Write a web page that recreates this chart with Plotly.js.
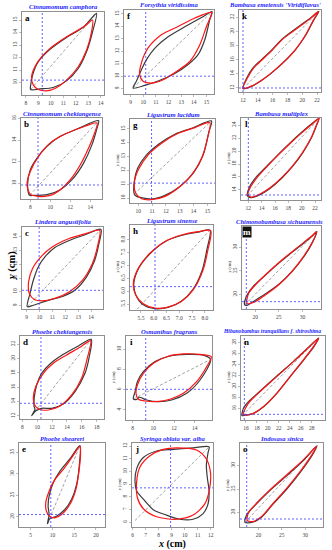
<!DOCTYPE html>
<html><head><meta charset="utf-8">
<script src="https://cdn.plot.ly/plotly-3.0.1.min.js"></script>
<style>html,body{margin:0;padding:0;background:#fff}#chart{width:332px;height:550px}</style>
</head><body><div id="chart"></div>
<script>
// ---------- data: leaf outlines (black = observed, red = fitted), base-apex lines, blue reference lines ----------
const a_black = [[13.67,15.53],[12.6,14.41],[11.26,13.61],[9.93,12.65],[8.99,11.66],[8.53,10.59],[8.4,9.92],[8.37,9.44],[9.12,9.49],[10.19,9.6],[11.26,10.13],[12.2,11.12],[12.92,12.6],[13.35,14.06],[13.67,15.53]];
const a_red   = [[13.35,15.0],[12.73,14.52],[11.26,13.66],[9.93,12.73],[8.86,11.52],[8.45,10.45],[8.59,9.79],[8.99,9.44],[9.66,9.33],[10.33,9.52],[11.26,10.19],[12.2,11.26],[12.87,12.6],[13.27,14.06],[13.35,15.0]];
const a_diag  = [[8.37,9.44],[13.67,15.53]];
const a_ref   = [9.31,10.19];

const b_black = [[14.83,15.81],[12.67,15.04],[11.0,14.36],[9.67,13.44],[8.67,12.35],[8.0,11.27],[7.73,9.88],[7.93,8.89],[8.33,8.89],[9.67,8.95],[11.0,9.41],[12.17,10.34],[13.33,11.88],[14.17,13.59],[14.67,15.13],[14.83,15.81]];
const b_red   = [[14.67,15.6],[13.0,15.13],[11.33,14.5],[10.0,13.75],[8.83,12.5],[8.0,11.1],[7.67,9.88],[8.0,9.0],[8.83,8.79],[10.0,8.88],[11.0,9.41],[12.0,10.34],[13.0,11.73],[13.83,13.28],[14.43,14.67],[14.67,15.6]];
const b_diag  = [[7.93,8.89],[14.83,15.81]];
const b_ref   = [8.77,9.85];

const c_black = [[14.77,14.55],[13.64,14.19],[12.35,13.76],[11.19,13.23],[10.42,12.55],[9.9,11.82],[9.52,10.85],[9.26,9.88],[9.05,8.93],[9.52,9.03],[10.55,9.35],[11.84,9.69],[12.74,10.12],[13.64,11.08],[14.28,12.29],[14.61,13.5],[14.77,14.55]];
const c_red   = [[14.67,14.48],[13.59,14.24],[12.3,13.88],[11.01,13.28],[10.11,12.55],[9.46,11.71],[9.15,10.72],[9.21,9.88],[9.59,9.45],[10.24,9.35],[11.14,9.52],[12.3,10.0],[13.33,10.84],[14.1,12.05],[14.49,13.26],[14.67,14.48]];
const c_diag  = [[9.05,8.93],[14.77,14.55]];
const c_ref   = [9.97,10.12];

const d_black = [[17.28,22.7],[15.53,21.77],[13.52,20.6],[11.72,19.26],[10.6,17.95],[9.93,16.33],[9.61,14.6],[9.57,13.4],[9.7,12.93],[9.26,12.05],[9.84,12.74],[10.6,13.07],[11.95,13.07],[13.52,13.67],[15.09,15.4],[16.43,17.95],[17.01,20.28],[17.28,22.7]];
const d_red   = [[17.19,22.51],[15.76,21.58],[13.96,20.51],[12.17,19.35],[10.83,17.95],[9.84,16.19],[9.48,14.6],[9.66,13.53],[10.29,12.93],[11.5,12.84],[13.07,13.4],[14.64,14.93],[15.98,17.26],[16.74,20.05],[17.19,22.51]];
const d_diag  = [[9.26,12.05],[17.28,22.7]];
const d_ref   = [10.51,13.77];

const e_black = [[16.31,36.55],[14.0,33.45],[11.69,30.58],[10.15,27.87],[9.23,24.77],[9.0,22.44],[9.23,20.5],[8.85,18.37],[9.38,19.5],[10.92,20.12],[12.85,21.67],[14.38,24.0],[15.54,27.49],[16.15,31.74],[16.31,36.55]];
const e_red   = [[16.31,36.4],[14.38,33.68],[12.46,30.97],[10.54,28.64],[9.23,25.93],[8.46,23.22],[8.62,21.28],[9.38,20.12],[10.54,19.73],[12.08,20.5],[14.0,22.83],[15.38,26.32],[16.15,30.97],[16.46,34.84],[16.31,36.4]];
const e_diag  = [[8.85,18.37],[16.31,36.55]];
const e_ref   = [9.62,20.5];

const f_black = [[15.45,15.19],[14.61,14.71],[13.29,13.97],[11.96,13.17],[10.9,12.24],[10.24,11.31],[9.85,10.52],[9.45,9.59],[9.19,9.05],[10.11,9.26],[11.17,9.61],[12.49,10.22],[13.55,10.94],[14.34,11.73],[14.87,12.93],[15.26,14.52],[15.45,15.19]];
const f_red   = [[15.4,15.13],[14.06,14.66],[12.75,14.0],[11.43,13.33],[10.38,12.27],[9.85,11.07],[9.71,10.12],[9.98,9.59],[10.64,9.45],[11.57,9.72],[12.62,10.38],[13.68,11.18],[14.47,12.51],[15.0,13.99],[15.4,15.13]];
const f_diag  = [[9.19,9.05],[15.45,15.19]];
const f_ref   = [10.19,10.0];

const g_black = [[15.3,15.58],[13.86,15.05],[12.65,14.62],[11.57,13.97],[10.6,13.13],[9.95,12.16],[9.71,11.2],[9.71,10.29],[9.88,10.12],[10.12,10.05],[10.96,9.93],[11.93,10.19],[13.01,10.84],[13.98,11.8],[14.7,13.13],[15.11,14.81],[15.3,15.58]];
const g_red   = [[15.18,15.46],[14.1,15.1],[12.89,14.69],[11.69,13.97],[10.72,13.13],[10.0,12.04],[9.71,11.08],[9.81,10.36],[10.24,9.95],[10.96,9.88],[11.93,10.12],[12.89,10.72],[13.86,11.68],[14.58,12.88],[15.01,14.33],[15.18,15.46]];
const g_diag  = [[9.71,10.29],[15.3,15.58]];
const g_ref   = [10.96,11.08];

const h_black = [[8.2,8.38],[7.73,8.3],[7.08,8.17],[6.44,7.93],[5.85,7.46],[5.41,6.9],[5.22,6.31],[5.3,5.85],[5.56,5.49],[6.05,5.32],[6.56,5.37],[7.08,5.61],[7.53,6.06],[7.9,6.83],[8.08,7.62],[8.2,8.38]];
const h_red   = [[8.23,8.36],[7.73,8.32],[7.08,8.19],[6.44,7.94],[5.85,7.48],[5.4,6.9],[5.2,6.31],[5.29,5.86],[5.59,5.51],[6.05,5.34],[6.56,5.38],[7.08,5.6],[7.54,6.05],[7.93,6.83],[8.12,7.61],[8.23,8.36]];
const h_diag  = [[5.35,5.3],[8.2,8.38]];
const h_ref   = [6.05,6.18];

const i_black = [[15.55,9.0],[14.84,9.43],[13.23,9.5],[11.61,9.34],[10.16,8.78],[9.03,7.79],[8.45,6.8],[8.23,5.81],[8.06,5.08],[8.39,5.05],[8.65,5.25],[9.35,4.98],[10.48,4.82],[11.77,4.98],[13.23,5.64],[14.52,6.96],[15.55,9.0]];
const i_red   = [[15.61,9.27],[14.52,9.5],[12.9,9.54],[11.29,9.27],[10.0,8.61],[9.03,7.62],[8.45,6.47],[8.32,5.64],[8.55,5.05],[9.19,4.88],[10.32,4.82],[11.61,5.05],[12.9,5.64],[14.19,6.8],[15.16,8.28],[15.61,9.27]];
const i_diag  = [[8.06,5.08],[15.55,9.0]];
const i_ref   = [9.26,6.04];

const j_black = [[11.87,11.95],[10.64,11.87],[9.11,11.75],[7.84,11.62],[6.82,11.11],[6.31,10.23],[6.18,9.22],[6.31,8.46],[6.82,7.82],[7.58,6.99],[8.6,6.56],[9.62,6.23],[10.64,6.23],[11.41,6.68],[11.79,7.44],[11.87,8.46],[11.74,9.47],[11.66,10.48],[11.79,11.49],[11.87,11.95]];
const j_red   = [[9.37,11.87],[10.9,11.7],[11.66,10.99],[11.97,9.97],[11.92,8.71],[11.54,7.44],[10.64,6.56],[9.37,6.23],[7.84,6.43],[6.82,7.06],[6.36,7.95],[6.31,9.22],[6.56,10.35],[7.33,11.24],[8.35,11.75],[9.37,11.87]];
const j_diag  = [[6.18,6.13],[11.87,11.95]];
const j_ref   = [8.91,8.71];

const k_black = [[12.0,11.9],[12.5,13.4],[13.4,14.9],[14.5,16.0],[15.9,17.4],[17.2,18.85],[18.6,20.0],[19.9,21.0],[21.0,21.8],[22.25,22.85],[21.5,21.5],[20.5,19.5],[19.0,17.3],[16.8,14.95],[14.5,13.05],[13.2,12.25],[12.0,11.9]];
const k_red   = [[12.0,11.95],[12.6,13.4],[13.5,14.9],[14.52,15.93],[15.9,17.3],[17.23,18.78],[18.6,19.9],[19.93,20.91],[21.0,21.75],[22.18,22.81],[21.5,21.6],[20.5,19.6],[19.03,17.36],[16.77,14.99],[14.52,13.09],[13.2,12.3],[12.0,11.95]];
const k_diag  = [[12.0,11.9],[22.25,22.85]];
const k_ref   = [12.0,12.0];

const l_black = [[11.85,13.12],[12.2,14.5],[13.2,16.0],[14.8,17.7],[16.5,19.5],[18.3,21.3],[20.0,22.9],[21.5,24.2],[22.6,25.04],[22.25,24.0],[21.45,22.0],[20.2,19.8],[18.7,17.7],[17.0,15.8],[15.2,14.2],[13.6,13.2],[12.4,12.8],[11.85,13.12]];
const l_red   = [[11.95,13.3],[12.3,14.4],[13.3,15.9],[14.8,17.6],[16.5,19.4],[18.3,21.2],[20.0,22.8],[21.5,24.1],[22.6,25.04],[22.2,24.0],[21.4,22.0],[20.2,19.9],[18.7,17.8],[17.0,15.9],[15.2,14.3],[13.6,13.3],[12.4,12.9],[11.95,13.3]];
const l_diag  = [[11.85,13.12],[22.6,25.04]];
const l_ref   = [12.0,13.22];

const m_black = [[17.75,17.82],[18.03,19.44],[19.65,21.83],[22.11,24.08],[25.63,27.18],[29.15,30.0],[31.97,32.25],[33.03,33.31],[32.11,30.99],[30.42,28.17],[27.89,25.0],[25.07,22.25],[22.11,20.14],[19.86,18.73],[18.24,17.75],[17.75,17.82]];
const m_red   = [[18.24,18.17],[18.59,20.28],[20.0,22.04],[22.11,24.15],[25.63,27.32],[29.15,30.14],[31.97,32.39],[33.03,33.31],[31.97,30.85],[30.21,28.03],[27.75,24.86],[24.93,22.04],[22.11,19.93],[20.0,18.52],[18.24,18.17]];
const m_diag  = [[17.75,17.82],[33.03,33.31]];
const m_ref   = [18.1,18.52];

const n_black = [[15.27,14.73],[15.6,16.2],[16.5,17.3],[18.6,19.2],[21.6,21.9],[24.7,24.6],[27.1,26.85],[29.3,28.85],[28.35,27.2],[26.5,24.8],[24.05,21.78],[21.6,18.75],[19.15,16.3],[17.3,15.1],[15.8,14.8],[15.27,14.73]];
const n_red   = [[15.51,15.03],[16.43,16.97],[18.56,19.09],[21.61,21.82],[24.66,24.55],[27.1,26.79],[29.23,28.79],[28.32,27.27],[26.49,24.85],[24.05,21.82],[21.61,18.79],[19.17,16.36],[17.34,15.15],[15.82,14.85],[15.51,15.03]];
const n_diag  = [[15.27,14.73],[29.23,28.79]];
const n_ref   = [15.7,14.97];

const o_black = [[17.14,17.86],[17.5,19.5],[19.64,21.86],[22.5,24.71],[26.07,27.86],[29.64,31.14],[32.5,34.29],[31.43,32.14],[28.93,28.57],[26.07,25.0],[23.21,21.86],[20.71,19.0],[18.93,17.93],[17.14,17.86]];
const o_red   = [[17.64,18.21],[17.86,19.86],[19.64,22.0],[22.5,24.86],[26.07,28.07],[29.64,31.29],[32.36,34.14],[31.43,32.36],[28.93,28.79],[26.07,25.21],[23.21,22.0],[20.71,19.14],[18.93,18.07],[17.64,18.21]];
const o_diag  = [[17.14,17.86],[32.5,34.29]];
const o_ref   = [17.5,18.57];

// species names
const names = {a:'Cinnamomum camphora', b:'Cinnamomum chekiangense', c:'Lindera angustifolia', d:'Phoebe chekiangensis', e:'Phoebe sheareri',
  f:'Forsythia viridissima', g:'Ligustrum lucidum', h:'Ligustrum sinense', i:'Osmanthus fragrans', j:'Syringa oblata var. alba',
  k:"Bambusa emeiensis 'Viridiflavus'", l:'Bambusa multiplex', m:'Chimonobambusa sichuanensis', n:'Hibanobambus tranquillans f. shiroshima', o:'Indosasa sinica'};

// ---------- panel boxes [left,right,top,bottom] in pixels, axis ranges and tick values ----------
const panels = [
 {id:'a', box:[22,104,12,95],  xr:[7.68,14.27], yr:[9.0,15.64],  xt:[8,9,10,11,12,13,14], yt:[10,11,12,13,14,15], black:a_black, red:a_red, diag:a_diag, ref:a_ref, ylab:false},
 {id:'f', box:[124,214,10,94], xr:[8.47,15.6],  yr:[8.57,15.32], xt:[9,10,11,12,13,14,15], yt:[9,10,11,12,13,14,15], black:f_black, red:f_red, diag:f_diag, ref:f_ref, ylab:false},
 {id:'k', box:[239,321,10,92], xr:[11.46,22.54],yr:[11.43,23.04],xt:[12,14,16,18,20,22], yt:[12,14,16,18,20,22], black:k_black, red:k_red, diag:k_diag, ref:k_ref, ylab:false, tx:275},
 {id:'b', box:[21,102,118,199],xr:[7.07,15.17], yr:[8.55,16.06], xt:[8,10,12,14], yt:[10,12,14,16], black:b_black, red:b_red, diag:b_diag, ref:b_ref, ylab:false},
 {id:'g', box:[130,215,119,203],xr:[9.4,15.55], yr:[9.64,15.72], xt:[10,11,12,13,14,15], yt:[10,11,12,13,14,15], black:g_black, red:g_red, diag:g_diag, ref:g_ref, ylab:true},
 {id:'l', box:[241,321,118,200],xr:[10.9,22.9], yr:[12.45,25.1], xt:[12,14,16,18,20,22], yt:[14,16,18,20,22,24], black:l_black, red:l_red, diag:l_diag, ref:l_ref, ylab:true},
 {id:'c', box:[22,103,227,309],xr:[8.64,14.93], yr:[8.76,14.72], xt:[9,10,11,12,13,14], yt:[9,10,11,12,13,14], black:c_black, red:c_red, diag:c_diag, ref:c_ref, ylab:false},
 {id:'h', box:[130,213,225,310],xr:[5.07,8.32], yr:[5.27,8.58], xt:[5.5,6,6.5,7,7.5,8], yt:[5.5,6,6.5,7,7.5,8], dec:1, black:h_black, red:h_red, diag:h_diag, ref:h_ref, ylab:true},
 {id:'m', box:[242,321,226,309],xr:[17.18,33.94],yr:[16.97,34.5], xt:[20,25,30], yt:[20,25,30], black:m_black, red:m_red, diag:m_diag, ref:m_ref, ylab:true, boxed:true, tx:279},
 {id:'d', box:[20,104,336,419],xr:[7.69,18.99], yr:[11.58,23.16], xt:[8,10,12,14,16,18], yt:[12,14,16,18,20,22], black:d_black, red:d_red, diag:d_diag, ref:d_ref, ylab:false},
 {id:'i', box:[126,212,336,420],xr:[7.35,15.68], yr:[3.0,11.32], xt:[8,10,12,14], yt:[4,6,8,10], black:i_black, red:i_red, diag:i_diag, ref:i_ref, ylab:true},
 {id:'n', box:[241,325,336,420],xr:[15.09,30.44],yr:[13.94,29.21],xt:[16,18,20,22,24,26,28], yt:[16,18,20,22,24,26,28], black:n_black, red:n_red, diag:n_diag, ref:n_ref, ylab:true, tx:272, ts:5.6},
 {id:'e', box:[19,105,443,527],xr:[2.31,22.08], yr:[17.6,37.17], xt:[5,10,15,20], yt:[20,25,30,35], black:e_black, red:e_red, diag:e_diag, ref:e_ref, ylab:false},
 {id:'j', box:[132,213,443,527],xr:[5.95,12.17], yr:[5.62,12.25], xt:[6,7,8,9,10,11,12], yt:[6,7,8,9,10,11,12], black:j_black, red:j_red, diag:j_diag, ref:j_ref, ylab:true},
 {id:'o', box:[240,323,443,527],xr:[16.07,33.79],yr:[16.86,34.86],xt:[20,25,30], yt:[20,25,30], black:o_black, red:o_red, diag:o_diag, ref:o_ref, ylab:true}
];

const W = 332, H = 550;
const SERIF = 'Liberation Serif, Times New Roman, serif';
const traces = [], shapes = [], annotations = [];
const layout = {width:W, height:H, margin:{l:0,r:0,t:0,b:0}, showlegend:false,
  paper_bgcolor:'#ffffff', plot_bgcolor:'#ffffff', shapes:shapes, annotations:annotations};
const axBase = {showgrid:false, zeroline:false, showline:true, mirror:true, linecolor:'#8f8f8f', linewidth:1,
  ticks:'outside', ticklen:2, tickwidth:0.6, tickcolor:'#8f8f8f', fixedrange:true,
  tickfont:{family:SERIF, size:5.5, color:'#444'}};
const col = pts => ({x: pts.map(p => p[0]), y: pts.map(p => p[1])});
const px = v => v / W, py = v => 1 - v / H;

panels.forEach((p, idx) => {
  const n = idx + 1, sfx = n > 1 ? String(n) : '';
  const xa = 'x' + sfx, ya = 'y' + sfx;
  const [l, r, t, b] = p.box;
  const fmt = v => p.dec ? v.toFixed(p.dec) : String(v);
  layout['xaxis' + sfx] = Object.assign({}, axBase, {domain:[px(l), px(r)], anchor:ya, range:p.xr,
    tickmode:'array', tickvals:p.xt, ticktext:p.xt.map(fmt)});
  layout['yaxis' + sfx] = Object.assign({}, axBase, {domain:[py(b), py(t)], anchor:xa, range:p.yr,
    tickmode:'array', tickvals:p.yt, ticktext:p.yt.map(fmt), tickangle:-90});

  traces.push(Object.assign({type:'scatter', mode:'lines', xaxis:xa, yaxis:ya, hoverinfo:'skip',
    line:{color:'#7a7a7a', width:0.7, dash:'3px,2px'}}, col(p.diag)));
  traces.push(Object.assign({type:'scatter', mode:'lines', xaxis:xa, yaxis:ya, hoverinfo:'skip',
    line:{color:'#3a3a3a', width:1.2, shape:'spline', smoothing:0.8}}, col(p.black)));
  traces.push(Object.assign({type:'scatter', mode:'lines', xaxis:xa, yaxis:ya, hoverinfo:'skip',
    line:{color:'#ff1414', width:1.2, shape:'spline', smoothing:0.8}}, col(p.red)));

  const blue = {color:'#3a3aff', width:0.8, dash:'2px,2px'};
  shapes.push({type:'line', xref:xa, yref:ya + ' domain', x0:p.ref[0], x1:p.ref[0], y0:0, y1:1, line:blue});
  shapes.push({type:'line', xref:xa + ' domain', yref:ya, x0:0, x1:1, y0:p.ref[1], y1:p.ref[1], line:blue});

  // species title
  annotations.push({xref:'paper', yref:'paper', x:px(p.tx || (l + r) / 2), y:py(t - 5), xanchor:'center', yanchor:'middle',
    showarrow:false, text:'<b><i>' + names[p.id] + '</i></b>', font:{family:SERIF, size:p.ts || 6.6, color:'#2424ff'}});
  // panel letter
  annotations.push({xref:'paper', yref:'paper', x:px(l + 5), y:py(t + 6), xanchor:'center', yanchor:'middle',
    showarrow:false, text:'<b>' + p.id + '</b>',
    font:{family:SERIF, size:9, color:p.boxed ? '#ffffff' : '#000000'},
    bgcolor:p.boxed ? '#111111' : 'rgba(0,0,0,0)', borderpad:0});
  // small y-axis title
  if (p.ylab) {
    annotations.push({xref:'paper', yref:'paper', x:px(l - 13), y:py((t + b) / 2), xanchor:'center', yanchor:'middle',
      showarrow:false, textangle:-90, text:'<i>y</i> (cm)', font:{family:SERIF, size:4.5, color:'#333'}});
  }
});

annotations.push({xref:'paper', yref:'paper', x:px(12), y:py(266), xanchor:'center', yanchor:'middle', showarrow:false,
  textangle:-90, text:'<b><i>y</i> (cm)</b>', font:{family:SERIF, size:10.5, color:'#000'}});
annotations.push({xref:'paper', yref:'paper', x:px(172), y:py(543.5), xanchor:'center', yanchor:'middle', showarrow:false,
  text:'<b><i>x</i> (cm)</b>', font:{family:SERIF, size:10, color:'#000'}});

Plotly.newPlot('chart', traces, layout, {staticPlot:true, displayModeBar:false});
</script>
</body></html>
